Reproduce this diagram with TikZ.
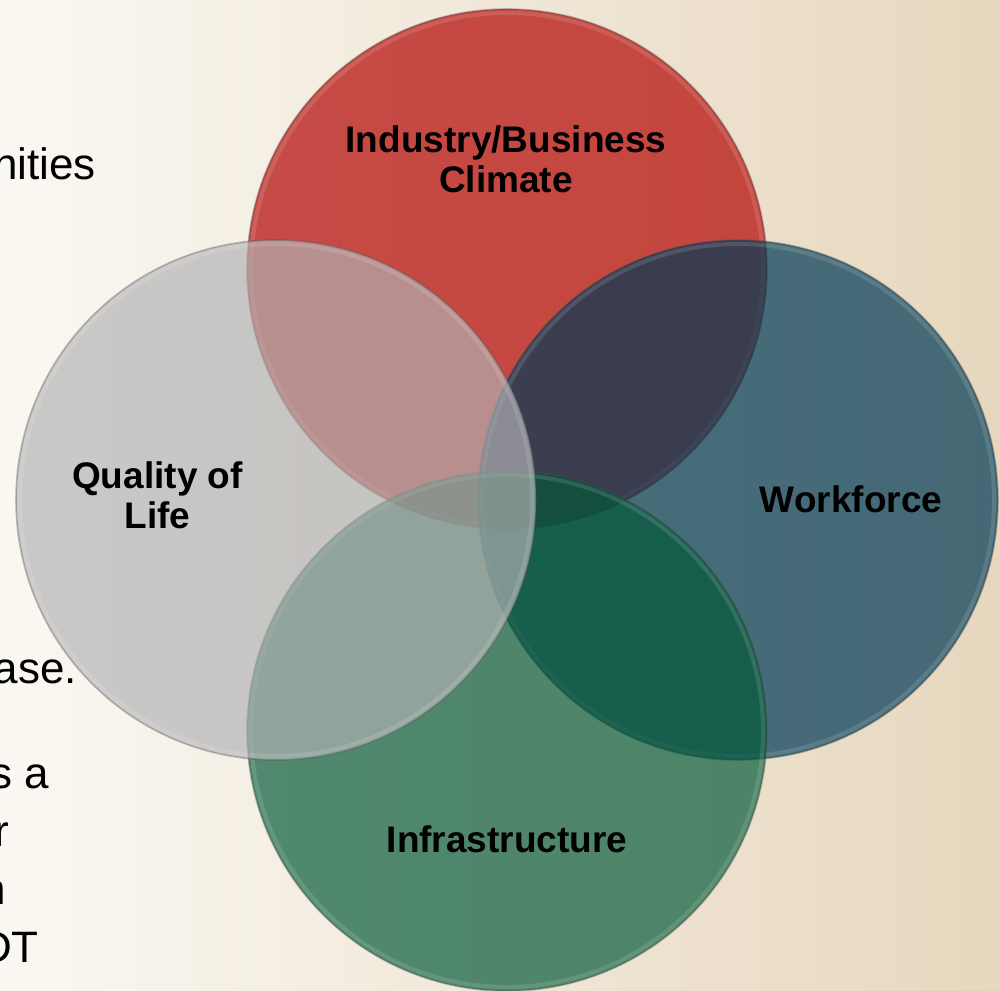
\documentclass[tikz,border=0pt]{standalone}
\usepackage{fontspec}
\setmainfont{Liberation Sans}
\definecolor{bgL}{RGB}{250,248,242}
\definecolor{bgM}{RGB}{244,237,224}
\definecolor{bgR}{RGB}{231,215,190}
\definecolor{cRed}{RGB}{179,5,3}
\definecolor{cBlue}{RGB}{0,58,86}
\definecolor{cGreen}{RGB}{0,87,54}
\definecolor{cGrey}{RGB}{178,178,180}
\tikzset{
  venn/.style={circle, minimum size=520pt, inner sep=0pt, outer sep=0pt,
    draw=black!70, draw opacity=0.35, line width=1.6pt},
  rim/.style={draw=white, draw opacity=0.12, line width=4pt},
  lbl/.style={font=\bfseries\fontsize{37}{39.5}\selectfont, align=center,
    inner sep=0pt, text=black, anchor=base},
  body/.style={font=\fontsize{44}{53}\selectfont, inner sep=0pt,
    anchor=base east, text=black}
}
\begin{document}
\begin{tikzpicture}[x=1pt,y=-1pt]
\clip (0,0) rectangle (1000,990);
\shade[left color=bgL, middle color=bgM, right color=bgR] (0,0) rectangle (1000,990);
% partial body text on the left
\node[body] (t1) at (96,179) {nities};
\node[body] (t2) at (77,683) {ase.};
\node[body] (t3) at (49,788) {s a};
\node[body] (t4) at (9,846) {r};
\node[body] (t5) at (6,904) {n};
\node[body] (t6) at (39,962) {DT};
% circles
\node[venn, fill=cRed, fill opacity=0.7] (ind) at (507,269) {};
\draw[rim] (ind.center) circle[radius=256];
\node[venn, fill=cBlue, fill opacity=0.7] (wf) at (738,500) {};
\draw[rim] (wf.center) circle[radius=256];
\node[venn, fill=cGreen, fill opacity=0.67] (inf) at (507,731) {};
\draw[rim] (inf.center) circle[radius=256];
\node[venn, fill=cGrey, fill opacity=0.67] (qol) at (276,500) {};
\draw[rim] (qol.center) circle[radius=256];
% labels
\node[lbl] (indL) at (506,192) {Industry/Business\\Climate};
\node[lbl] (wfL) at (851,512) {Workforce};
\node[lbl] (qolL) at (157.5,528) {Quality of\\Life};
\node[lbl] (infL) at (507,852) {Infrastructure};
\end{tikzpicture}
\end{document}
